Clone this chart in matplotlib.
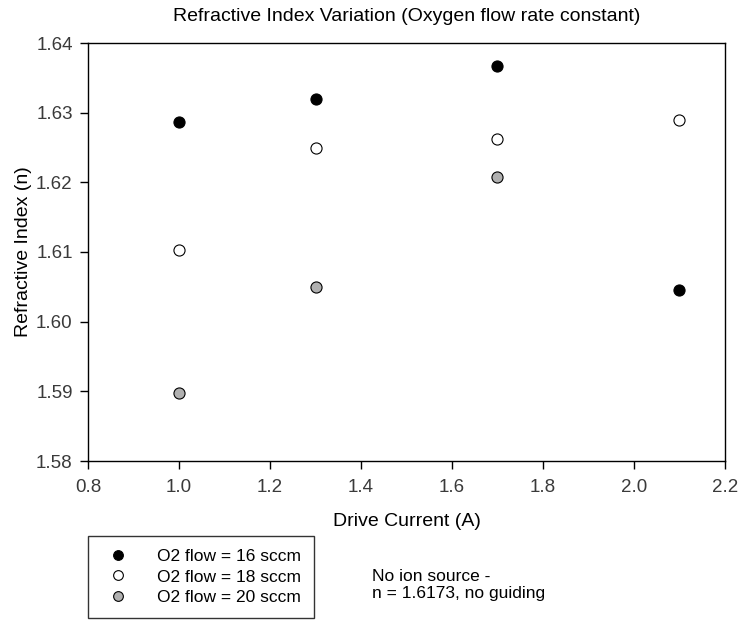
import matplotlib
matplotlib.use("Agg")
import matplotlib.pyplot as plt
from matplotlib.lines import Line2D

plt.rcParams['font.family'] = ['Liberation Sans', 'DejaVu Sans']

currents_16 = [1.0, 1.3, 1.7, 2.1]
n_16 = [1.6287, 1.6320, 1.6367, 1.6046]
currents_18 = [1.0, 1.3, 1.7, 2.1]
n_18 = [1.6103, 1.6249, 1.6262, 1.6290]
currents_20 = [1.0, 1.3, 1.7]
n_20 = [1.5897, 1.6050, 1.6207]
labels = ["O2 flow = 16 sccm", "O2 flow = 18 sccm", "O2 flow = 20 sccm"]
xticks = [0.8, 1.0, 1.2, 1.4, 1.6, 1.8, 2.0, 2.2]
yticks = [1.58, 1.59, 1.60, 1.61, 1.62, 1.63, 1.64]

W, H = 739, 623
fig = plt.figure(figsize=(W / 100, H / 100), dpi=100)
ax = fig.add_axes([88 / W, 1 - 461 / H, (725 - 88) / W, (461 - 43) / H])

ms = 8
ax.plot(currents_16, n_16, 'o', ms=ms, mfc='black', mec='black', mew=0.8)
ax.plot(currents_18, n_18, 'o', ms=ms, mfc='white', mec='black', mew=0.8)
ax.plot(currents_20, n_20, 'o', ms=ms, mfc='#b0b0b0', mec='black', mew=0.8)

ax.set_xlim(0.8, 2.2)
ax.set_ylim(1.58, 1.64)
ax.set_xticks(xticks)
ax.set_xticklabels([f"{v:.1f}" for v in xticks])
ax.set_yticks(yticks)
ax.set_yticklabels([f"{v:.2f}" for v in yticks])
ax.tick_params(direction='out', length=6, width=1, labelsize=13.5, labelcolor='#3a3a3a')
ax.tick_params(axis='x', pad=7)
ax.tick_params(axis='y', pad=5)
for s in ax.spines.values():
    s.set_linewidth(1.0)

ax.set_xlabel("Drive Current (A)", fontsize=14, labelpad=12)
ax.set_ylabel("Refractive Index (n)", fontsize=14, labelpad=3)
ax.set_title("Refractive Index Variation (Oxygen flow rate constant)", fontsize=14, pad=16)

handles = [
    Line2D([], [], ls='none', marker='o', ms=7, mfc='black', mec='black', mew=0.8),
    Line2D([], [], ls='none', marker='o', ms=7, mfc='white', mec='black', mew=0.8),
    Line2D([], [], ls='none', marker='o', ms=7, mfc='#b0b0b0', mec='black', mew=0.8),
]
leg = fig.legend(handles, labels, loc='upper left',
                 bbox_to_anchor=(88 / W, 1 - 536 / H), bbox_transform=fig.transFigure,
                 frameon=True, fancybox=False, edgecolor='black', fontsize=12.5,
                 borderpad=0.75, labelspacing=0.3, handletextpad=1.2, borderaxespad=0,
                 handlelength=2.0)
leg.get_frame().set_linewidth(1.0)

fig.text(372 / W, 1 - 585 / H, "No ion source -\nn = 1.6173, no guiding",
         fontsize=12.5, va='center', ha='left', linespacing=1.1)

fig.savefig("out.png", dpi=100)
